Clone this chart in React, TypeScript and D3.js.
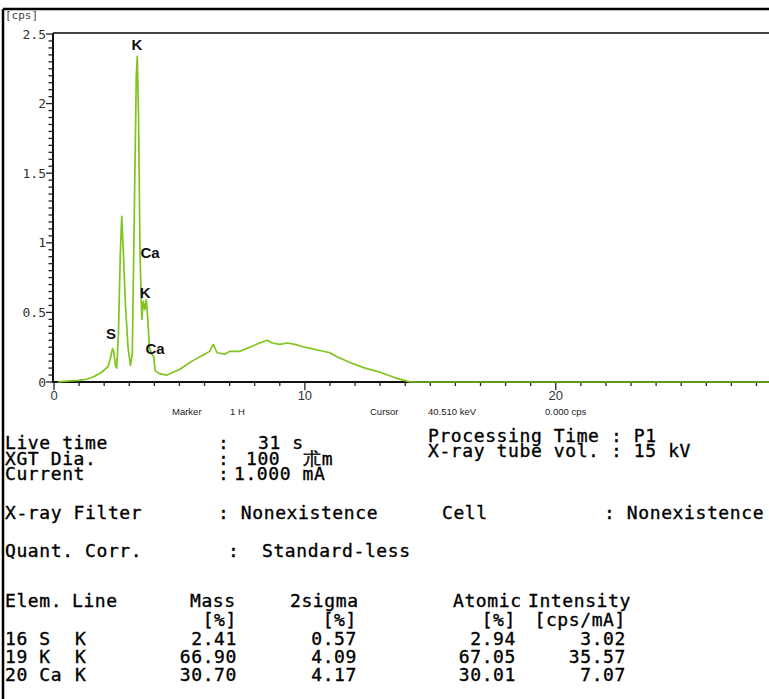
import React from "react";
import * as d3 from "d3";

// spectrum: energy [keV] / intensity [cps]
const energy = [
  0.15, 0.4, 0.8, 1.0, 1.3, 1.6, 1.9, 2.15, 2.25, 2.33, 2.38, 2.45, 2.5, 2.57,
  2.64, 2.7, 2.76, 2.85, 2.95, 3.05, 3.12, 3.2, 3.28, 3.32, 3.37, 3.43, 3.5,
  3.56, 3.62, 3.68, 3.74, 3.8, 3.9, 3.98, 4.03, 4.2, 4.5, 5.0, 5.5, 6.0, 6.2,
  6.35, 6.5, 6.8, 7.0, 7.4, 7.8, 8.2, 8.5, 8.7, 9.0, 9.3, 9.6, 10.0, 10.5,
  11.0, 11.3, 11.8, 12.4, 13.0, 13.6, 14.0, 14.2, 28.5,
];
const cps = [
  0.0, 0.005, 0.01, 0.012, 0.02, 0.04, 0.07, 0.11, 0.17, 0.24, 0.22, 0.12,
  0.1, 0.35, 0.9, 1.19, 0.95, 0.55, 0.25, 0.12, 0.2, 1.2, 2.2, 2.34, 1.9, 0.9,
  0.45, 0.58, 0.52, 0.59, 0.45, 0.25, 0.2, 0.18, 0.08, 0.06, 0.05, 0.09, 0.15,
  0.2, 0.22, 0.27, 0.21, 0.2, 0.22, 0.22, 0.25, 0.28, 0.3, 0.28, 0.27, 0.28,
  0.27, 0.25, 0.23, 0.21, 0.18, 0.14, 0.1, 0.07, 0.03, 0.01, 0.0, 0.0,
];

const peakNames = ["K", "Ca", "K", "S", "Ca"];
const peakEnergy = [3.31, 3.83, 3.63, 2.27, 4.03];
const peakCps = [2.42, 0.93, 0.64, 0.35, 0.24];

const yTickLabels = ["0", "0.5", "1", "1.5", "2", "2.5"];
const xTickLabels = ["0", "10", "20"];

const elems = ["16 S", "19 K", "20 Ca"];
const lines = ["K", "K", "K"];
const mass = ["2.41", "66.90", "30.70"];
const sigma = ["0.57", "4.09", "4.17"];
const atomic = ["2.94", "67.05", "30.01"];
const intensity = ["3.02", "35.57", "7.07"];

const W = 769;
const H = 699;
const mono = "'DejaVu Sans Mono', monospace";
const sans = "'Liberation Sans', Arial, sans-serif";

export default function App() {
  const x = d3.scaleLinear().domain([0, 28.5]).range([54, 769]);
  const y = d3.scaleLinear().domain([0, 2.5]).range([382, 34]);

  const pts = energy.map((e, i) => [e, cps[i]] as [number, number]);
  const line = d3
    .line<[number, number]>()
    .x((d) => x(d[0]))
    .y((d) => y(d[1]));

  const yMinor = y.ticks(50);
  const xMinor = x.ticks(28);

  const txt = {
    fontFamily: mono,
    fontSize: 18,
    letterSpacing: "0.6px",
    fill: "#000",
    stroke: "#000",
    strokeWidth: 0.35,
  } as React.CSSProperties;

  return (
    <svg
      width={W}
      height={H}
      style={{ position: "absolute", left: 0, top: 0, background: "#fff" }}
    >
      {/* outer frame */}
      <line x1={3} y1={9} x2={W} y2={9} stroke="#000" strokeWidth={2.5} />
      <line x1={3} y1={9} x2={3} y2={H} stroke="#000" strokeWidth={2.5} />

      {/* plot frame */}
      <line x1={53} y1={33} x2={W} y2={33} stroke="#444" strokeWidth={2} />
      <line x1={53} y1={33} x2={53} y2={383} stroke="#111" strokeWidth={2} />
      <line x1={53} y1={382} x2={W} y2={382} stroke="#111" strokeWidth={2} />

      {yMinor.map((t, i) => (
        <line
          key={"ym" + i}
          x1={Math.abs(t * 2 - Math.round(t * 2)) < 1e-6 ? 46 : 48.5}
          x2={53}
          y1={y(t)}
          y2={y(t)}
          stroke="#222"
          strokeWidth={1.3}
        />
      ))}
      {yTickLabels.map((s) => (
        <text
          key={"yl" + s}
          x={46}
          y={y(+s)}
          dy="0.35em"
          textAnchor="end"
          style={{ fontFamily: mono, fontSize: 13, fill: "#333" }}
        >
          {s}
        </text>
      ))}
      <text x={5} y={19} style={{ fontFamily: mono, fontSize: 11, fill: "#444" }}>
        [cps]
      </text>

      {xMinor.map((t, i) => (
        <line
          key={"xm" + i}
          x1={x(t)}
          x2={x(t)}
          y1={382}
          y2={t % 10 === 0 ? 390 : 386}
          stroke="#222"
          strokeWidth={1.3}
        />
      ))}
      {xTickLabels.map((s) => (
        <text
          key={"xl" + s}
          x={x(+s)}
          y={400}
          textAnchor="middle"
          style={{ fontFamily: sans, fontSize: 13, fill: "#333" }}
        >
          {s}
        </text>
      ))}

      <path
        d={line(pts) || ""}
        fill="none"
        stroke="#80c41e"
        strokeWidth={1.7}
        strokeLinejoin="round"
      />

      {peakNames.map((n, i) => (
        <text
          key={"pk" + i}
          x={x(peakEnergy[i])}
          y={y(peakCps[i])}
          dy="0.35em"
          textAnchor="middle"
          style={{ fontFamily: sans, fontSize: 15, fontWeight: "bold", fill: "#111" }}
        >
          {n}
        </text>
      ))}

      {/* marker / cursor row */}
      <g style={{ fontFamily: sans, fontSize: 9.5, fill: "#222" }}>
        <text x={172} y={415}>Marker</text>
        <text x={230} y={415}>1 H</text>
        <text x={370} y={415}>Cursor</text>
        <text x={428} y={415}>40.510 keV</text>
        <text x={545} y={415}>0.000 cps</text>
      </g>

      {/* measurement conditions */}
      <g style={txt}>
        <text x={5} y={449}>Live time</text>
        <text x={218} y={449}>:</text>
        <text x={258} y={449}>31 s</text>
        <text x={5} y={465}>XGT Dia.</text>
        <text x={218} y={465}>:</text>
        <text x={246} y={465} xmlSpace="preserve">100  朮m</text>
        <text x={5} y={480}>Current</text>
        <text x={218} y={480}>:</text>
        <text x={234} y={480}>1.000 mA</text>
        <text x={5} y={519}>X-ray Filter</text>
        <text x={218} y={519}>: Nonexistence</text>

        <text x={428} y={442}>Processing Time : P1</text>
        <text x={428} y={457}>X-ray tube vol. : 15 kV</text>
        <text x={442} y={519}>Cell</text>
        <text x={604} y={519}>: Nonexistence</text>

        <text x={5} y={557}>Quant. Corr.</text>
        <text x={228} y={557}>:</text>
        <text x={262} y={557}>Standard-less</text>

        <text x={5} y={607}>Elem.</text>
        <text x={72} y={607}>Line</text>
        <text x={190} y={607}>Mass</text>
        <text x={290} y={607}>2sigma</text>
        <text x={453} y={607}>Atomic</text>
        <text x={528} y={607}>Intensity</text>

        <text x={237} y={626} textAnchor="end">[%]</text>
        <text x={357} y={626} textAnchor="end">[%]</text>
        <text x={516} y={626} textAnchor="end">[%]</text>
        <text x={626} y={626} textAnchor="end">[cps/mA]</text>

        {elems.map((e, i) => (
          <g key={"row" + i}>
            <text x={5} y={645 + i * 18}>{e}</text>
            <text x={75} y={645 + i * 18}>{lines[i]}</text>
            <text x={237} y={645 + i * 18} textAnchor="end">{mass[i]}</text>
            <text x={357} y={645 + i * 18} textAnchor="end">{sigma[i]}</text>
            <text x={516} y={645 + i * 18} textAnchor="end">{atomic[i]}</text>
            <text x={626} y={645 + i * 18} textAnchor="end">{intensity[i]}</text>
          </g>
        ))}
      </g>
    </svg>
  );
}
